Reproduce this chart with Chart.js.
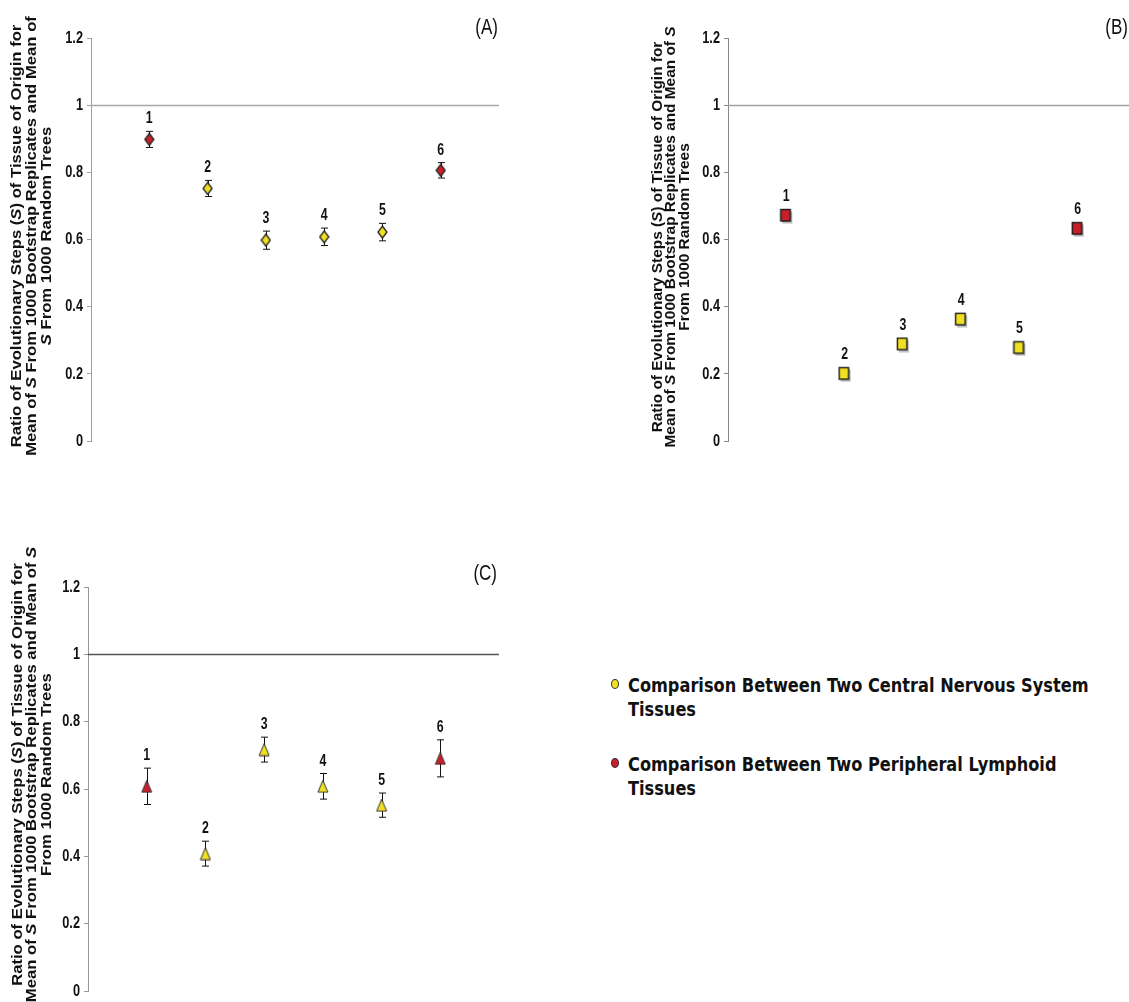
<!DOCTYPE html>
<html>
<head>
<meta charset="utf-8">
<script src="https://cdn.jsdelivr.net/npm/chart.js@4.4.1/dist/chart.umd.min.js"></script>
<style>
html,body{margin:0;padding:0;background:#fff;overflow:hidden;width:1129px;height:1002px;}
canvas.p{position:absolute;}
#legend{position:absolute;left:606px;top:674px;font-family:"DejaVu Sans",Verdana,sans-serif;font-weight:bold;font-size:16.2px;color:#111;line-height:24px;}
.item{position:relative;padding-left:22px;margin-bottom:31px;}
.item div{transform:scaleY(1.22);transform-origin:0 50%;white-space:nowrap;}
.dot{position:absolute;left:5px;top:5px;width:8px;height:10px;border-radius:50%;border:1px solid #333;box-sizing:border-box;}
</style>
</head>
<body>
<div id="legend"></div>
<script>
// ---------------- data ----------------
const pointIds = [1, 2, 3, 4, 5, 6];
const groups = ['PL', 'CNS', 'CNS', 'CNS', 'CNS', 'PL'];
const yTicks = [0, 0.2, 0.4, 0.6, 0.8, 1, 1.2];
const yTickLabels = ['0', '0.2', '0.4', '0.6', '0.8', '1', '1.2'];
const referenceValue = 1;

const valuesA = [0.898, 0.752, 0.598, 0.608, 0.622, 0.806];
const errorsA = [0.024, 0.024, 0.027, 0.026, 0.026, 0.023];
const valuesB = [0.670, 0.199, 0.287, 0.361, 0.276, 0.631];
const errorsB = [0.012, 0.010, 0.010, 0.010, 0.010, 0.012];
const valuesC = [0.608, 0.408, 0.717, 0.608, 0.552, 0.691];
const errorsC = [0.054, 0.037, 0.037, 0.038, 0.036, 0.055];

const groupKeys = ['CNS', 'PL'];
const groupNames = ['Comparison Between Two Central Nervous System Tissues',
                    'Comparison Between Two Peripheral Lymphoid Tissues'];
const legendLines = [['Comparison Between Two Central Nervous System', 'Tissues'],
                     ['Comparison Between Two Peripheral Lymphoid', 'Tissues']];
const panelLabels = ['(A)', '(B)', '(C)'];
const titleA = ['Ratio of Evolutionary Steps (*S*) of Tissue of Origin for',
                'Mean of *S* From 1000 Bootstrap Replicates and Mean of',
                '*S* From 1000 Random Trees'];
const titleBC = ['Ratio of Evolutionary Steps (*S*) of Tissue of Origin for',
                 'Mean of *S* From 1000 Bootstrap Replicates and Mean of *S*',
                 'From 1000 Random Trees'];
// --------------------------------------

const COLORS = {CNS: '#f0e024', PL: '#c8202a'};
const SANS = '"Liberation Sans",Arial,sans-serif';

function markerCanvas(shape, fill) {
  const c = document.createElement('canvas');
  const ctx = c.getContext('2d');
  if (shape === 'diamond') {
    c.width = 11; c.height = 14;
    ctx.beginPath();
    ctx.moveTo(5.5, 1); ctx.lineTo(10, 7); ctx.lineTo(5.5, 13); ctx.lineTo(1, 7); ctx.closePath();
    ctx.fillStyle = fill; ctx.fill();
    ctx.lineWidth = 1.3; ctx.strokeStyle = '#222'; ctx.stroke();
  } else if (shape === 'square') {
    c.width = 14; c.height = 16;
    ctx.fillStyle = 'rgba(0,0,0,0.28)';
    ctx.fillRect(3, 3.5, 10, 12);
    ctx.fillStyle = fill;
    ctx.fillRect(1.5, 1.5, 9.5, 11.5);
    ctx.lineWidth = 1.4; ctx.strokeStyle = '#1a1a1a';
    ctx.strokeRect(1.5, 1.5, 9.5, 11.5);
  } else {
    c.width = 12; c.height = 14;
    ctx.beginPath();
    ctx.moveTo(6, 1); ctx.lineTo(11, 13); ctx.lineTo(1, 13); ctx.closePath();
    ctx.fillStyle = fill; ctx.fill();
    ctx.lineWidth = 1; ctx.strokeStyle = '#333'; ctx.stroke();
  }
  return c;
}

function stretchedText(ctx, text, x, y, sx, sy) {
  ctx.save();
  ctx.translate(x, y);
  ctx.scale(sx, sy);
  ctx.fillText(text, 0, 0);
  ctx.restore();
}

const panelPlugin = {
  id: 'panelExtras',
  beforeDatasetsDraw(chart) {
    const o = chart.options.plugins.panelExtras;
    const {ctx, chartArea} = chart;
    const xs = chart.scales.x, ys = chart.scales.y;
    ctx.save();
    // reference line at 1
    const yr = Math.round(ys.getPixelForValue(referenceValue)) + 0.5;
    ctx.strokeStyle = o.refColor; ctx.lineWidth = 1.3;
    ctx.beginPath(); ctx.moveTo(chartArea.left, yr); ctx.lineTo(chartArea.right, yr); ctx.stroke();
    // error bars
    ctx.strokeStyle = '#111'; ctx.lineWidth = 1;
    o.values.forEach((v, i) => {
      const x = Math.round(xs.getPixelForValue(pointIds[i])) + 0.5;
      const t = ys.getPixelForValue(v + o.errors[i]);
      const b = ys.getPixelForValue(v - o.errors[i]);
      ctx.beginPath();
      ctx.moveTo(x, t); ctx.lineTo(x, b);
      ctx.moveTo(x - 3.5, t); ctx.lineTo(x + 3.5, t);
      ctx.moveTo(x - 3.5, b); ctx.lineTo(x + 3.5, b);
      ctx.stroke();
    });
    ctx.restore();
  },
  afterDraw(chart) {
    const o = chart.options.plugins.panelExtras;
    const {ctx, chartArea} = chart;
    const xs = chart.scales.x, ys = chart.scales.y;
    ctx.save();
    ctx.fillStyle = '#111';
    // y tick labels from the scale's ticks
    ctx.font = 'bold 15px ' + SANS;
    ctx.textAlign = 'right'; ctx.textBaseline = 'middle';
    ys.ticks.forEach((t, i) => {
      stretchedText(ctx, yTickLabels[i], chartArea.left - 8, ys.getPixelForValue(t.value), 0.85, 1.15);
    });
    // point number labels
    ctx.font = 'bold 14px ' + SANS;
    ctx.textAlign = 'center'; ctx.textBaseline = 'alphabetic';
    o.values.forEach((v, i) => {
      const x = xs.getPixelForValue(pointIds[i]);
      const t = Math.min(ys.getPixelForValue(v + o.errors[i]), ys.getPixelForValue(v) - 7);
      stretchedText(ctx, String(pointIds[i]), x, t - 8, 0.88, 1.17);
    });
    // panel label
    ctx.font = '17px ' + SANS;
    ctx.textAlign = 'right'; ctx.textBaseline = 'middle';
    stretchedText(ctx, o.label, o.labelX, o.labelY, 1, 1.27);
    // y-axis title (rotated, with italic S)
    o.title.forEach((line, li) => {
      const segs = line.split('*').map((s, k) => ({s, it: k % 2 === 1})).filter(g => g.s.length);
      const fontN = 'bold 14px ' + SANS, fontI = 'italic bold 14px ' + SANS;
      let total = 0;
      segs.forEach(g => { ctx.font = g.it ? fontI : fontN; g.w = ctx.measureText(g.s).width; total += g.w; });
      ctx.save();
      ctx.translate(o.titleX + li * o.titleGap, o.titleY);
      ctx.rotate(-Math.PI / 2);
      ctx.scale(o.titleStretch, 1);
      ctx.textAlign = 'left'; ctx.textBaseline = 'middle';
      let px = -total / 2;
      segs.forEach(g => { ctx.font = g.it ? fontI : fontN; ctx.fillText(g.s, px, 0); px += g.w; });
      ctx.restore();
    });
    ctx.restore();
  }
};

function makePanel(cfg) {
  const cv = document.createElement('canvas');
  cv.className = 'p';
  cv.width = cfg.w; cv.height = cfg.h;
  cv.style.left = cfg.left + 'px'; cv.style.top = cfg.top + 'px';
  cv.style.width = cfg.w + 'px'; cv.style.height = cfg.h + 'px';
  document.body.appendChild(cv);
  const datasets = groupKeys.map((g, gi) => ({
    label: groupNames[gi],
    data: pointIds.map((id, i) => groups[i] === g ? {x: id, y: cfg.values[i]} : null).filter(Boolean),
    pointStyle: markerCanvas(cfg.shape, COLORS[g]),
    pointRadius: 6,
    pointHoverRadius: 6,
    showLine: false,
    backgroundColor: COLORS[g]
  }));
  return new Chart(cv, {
    type: 'scatter',
    data: {datasets},
    options: {
      responsive: false, animation: false, devicePixelRatio: 1,
      layout: {padding: cfg.pad},
      plugins: {
        legend: {display: false}, tooltip: {enabled: false},
        panelExtras: {values: cfg.values, errors: cfg.errors, refColor: cfg.refColor,
          label: cfg.label, labelX: cfg.labelX, labelY: cfg.labelY,
          title: cfg.title, titleX: cfg.titleX, titleGap: cfg.titleGap, titleY: cfg.titleY,
          titleStretch: cfg.titleStretch}
      },
      scales: {
        x: {type: 'linear', min: 0, max: 7, display: false},
        y: {
          min: 0, max: 1.2,
          afterBuildTicks: s => { s.ticks = yTicks.map(v => ({value: v})); },
          afterFit: s => { s.width = cfg.axisW; },
          grid: {display: true, drawOnChartArea: false, drawTicks: true, tickLength: 4, color: cfg.axisColor},
          border: {display: true, color: cfg.axisColor, width: 1},
          ticks: {display: false}
        }
      }
    },
    plugins: [panelPlugin]
  });
}

makePanel({left: 0, top: 0, w: 520, h: 460, axisW: 91, pad: {top: 38, bottom: 19, left: 0, right: 21},
  values: valuesA, errors: errorsA, shape: 'diamond', refColor: '#a8a8a8', axisColor: '#a0a0a0',
  label: panelLabels[0], labelX: 498, labelY: 28, title: titleA, titleX: 17, titleGap: 15, titleY: 236,
  titleStretch: 1.19});
makePanel({left: 560, top: 0, w: 590, h: 460, axisW: 168, pad: {top: 38, bottom: 19, left: 0, right: 14},
  values: valuesB, errors: errorsB, shape: 'square', refColor: '#a0a0a0', axisColor: '#888',
  label: panelLabels[1], labelX: 568, labelY: 28, title: titleBC, titleX: 98, titleGap: 13.5, titleY: 237,
  titleStretch: 1.1});
makePanel({left: 0, top: 540, w: 520, h: 462, axisW: 88, pad: {top: 47, bottom: 11, left: 0, right: 21},
  values: valuesC, errors: errorsC, shape: 'triangle', refColor: '#555', axisColor: '#999',
  label: panelLabels[2], labelX: 497, labelY: 34, title: titleBC, titleX: 18, titleGap: 14.5, titleY: 234.5,
  titleStretch: 1.19});

// legend
const leg = document.getElementById('legend');
groupKeys.forEach((g, gi) => {
  const d = document.createElement('div');
  d.className = 'item';
  const dot = document.createElement('span');
  dot.className = 'dot'; dot.style.background = COLORS[g];
  d.appendChild(dot);
  legendLines[gi].forEach(t => { const l = document.createElement('div'); l.textContent = t; d.appendChild(l); });
  leg.appendChild(d);
});
</script>
</body>
</html>
